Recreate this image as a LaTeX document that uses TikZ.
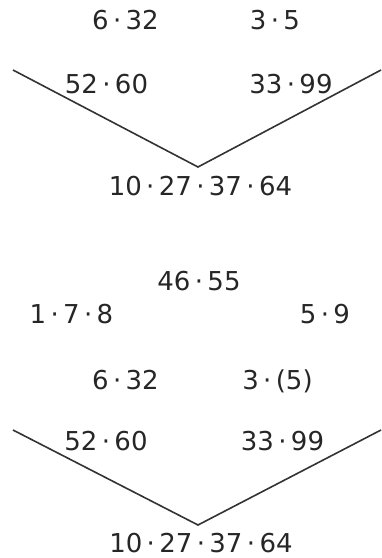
\documentclass[tikz,border=0pt]{standalone}
\usepackage{fontspec}
\setmainfont{DejaVu Sans}
\newcommand\mdot{\makebox[17pt]{·}}
\begin{document}
\begin{tikzpicture}[x=1pt,y=-1pt,
  lbl/.style={anchor=base,inner sep=0pt,text=black!85,font=\fontsize{26}{30}\selectfont},
  vline/.style={draw=black!80,line width=1.6pt,line join=miter}]
\useasboundingbox (0,0) rectangle (381,558);
% upper figure
\node[lbl] (a1) at (125.5,29) {6\mdot 32};
\node[lbl] (a2) at (275,29) {3\mdot 5};
\node[lbl] (a3) at (106.5,93) {52\mdot 60};
\node[lbl] (a4) at (291,93) {33\mdot 99};
\node[lbl] (a5) at (200.5,195) {10\mdot 27\mdot 37\mdot 64};
\coordinate (aL) at (13,70);
\coordinate (aV) at (198,167);
\coordinate (aR) at (381,70);
\draw[vline] (aL) -- (aV) -- (aR);
% lower figure
\node[lbl] (b0) at (199,290) {46\mdot 55};
\node[lbl] (b1) at (71.5,323) {1\mdot 7\mdot 8};
\node[lbl] (b2) at (325,323) {5\mdot 9};
\node[lbl] (b3) at (125.5,389) {6\mdot 32};
\node[lbl] (b4) at (277.5,389) {3\mdot(5)};
\node[lbl] (b5) at (106,450) {52\mdot 60};
\node[lbl] (b6) at (282.5,450) {33\mdot 99};
\node[lbl] (b7) at (201,552) {10\mdot 27\mdot 37\mdot 64};
\coordinate (bL) at (13,430);
\coordinate (bV) at (198,525);
\coordinate (bR) at (381,430);
\draw[vline] (bL) -- (bV) -- (bR);
\end{tikzpicture}
\end{document}
